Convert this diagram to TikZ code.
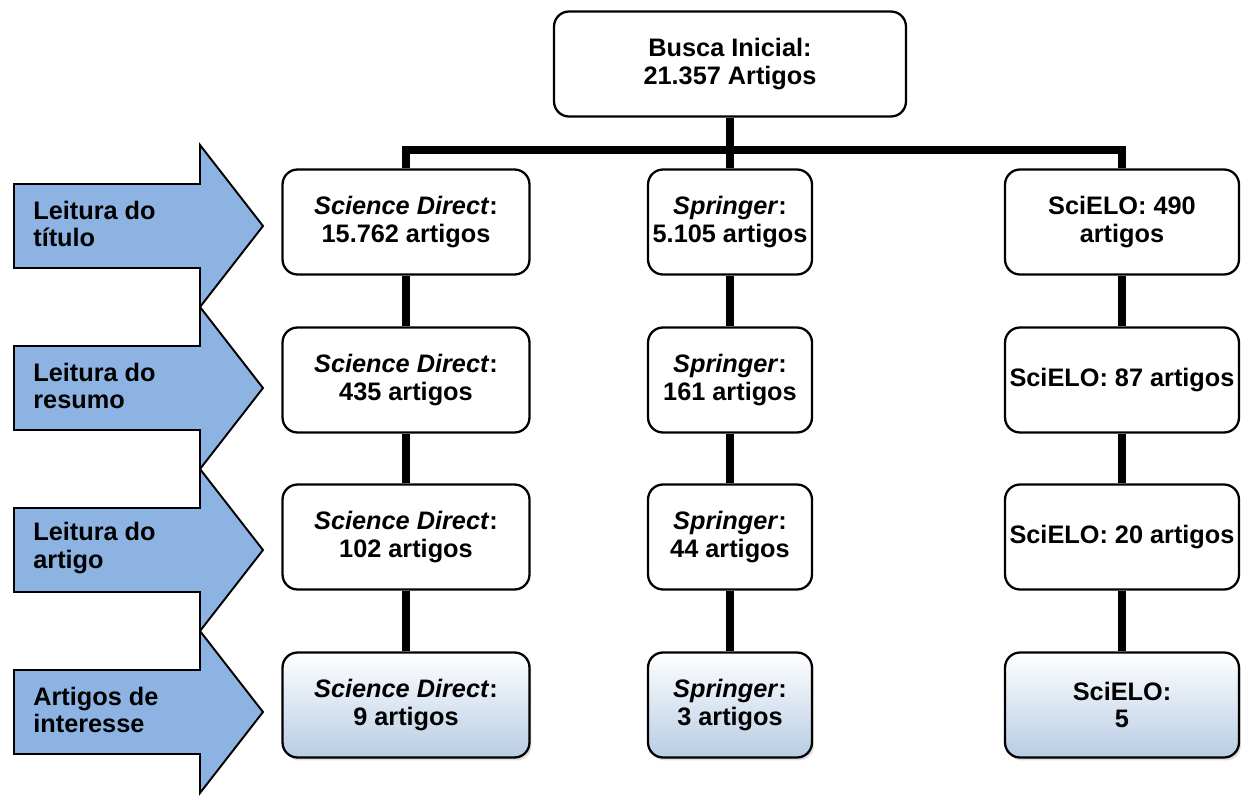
\documentclass[tikz,border=0pt]{standalone}
\usepackage{fontspec}
\setmainfont{Liberation Sans}
\usetikzlibrary{shadows}
\definecolor{arrcol}{HTML}{8DB3E2}
\definecolor{endcol}{HTML}{B8CCE4}
\tikzstyle{box}=[draw, fill=white, rounded corners=0.3cm, line width=1.3pt, align=center, minimum height=2.1cm, inner sep=2pt, font=\bfseries\fontsize{14.4}{15.6}\selectfont]
\tikzstyle{endbox}=[box, top color=white, bottom color=endcol, drop shadow={shadow xshift=0.04cm, shadow yshift=-0.06cm, fill=black!25}]
\tikzstyle{sdcol}=[minimum width=4.94cm]
\tikzstyle{spcol}=[minimum width=3.28cm]
\tikzstyle{sccol}=[minimum width=4.68cm]
\tikzstyle{link}=[line width=4.3pt]
\tikzstyle{phase}=[draw, fill=arrcol, line width=1.1pt, line join=miter]
\tikzstyle{phasetext}=[anchor=west, align=left, inner sep=0pt, font=\bfseries\fontsize{14.4}{15.4}\selectfont]

\begin{document}
\begin{tikzpicture}[x=0.02cm, y=-0.02cm]
	\useasboundingbox (0,0) rectangle (1241,798);

	% Stages
	\foreach \t/\nm/\txt in {226/ph1/{Leitura do\\título}, 388/ph2/{Leitura do\\resumo}, 550/ph3/{Leitura do\\artigo}, 712/ph4/{Artigos de\\interesse}} {
		\draw[phase] (14,\t-42) -- (200,\t-42) -- (200,\t-81) -- (263,\t) -- (200,\t+81) -- (200,\t+42) -- (14,\t+42) -- cycle;
		\node[phasetext] (\nm) at (33,\t-2) {\txt};
	}

	\node[box, minimum width=7.04cm] (top) at (730,64) {Busca Inicial:\\21.357 Artigos};

	\node[box, sdcol] (sd1) at (406,222) {\textit{Science Direct}:\\15.762 artigos};
	\node[box, sdcol] (sd2) at (406,380) {\textit{Science Direct}:\\435 artigos};
	\node[box, sdcol] (sd3) at (406,537) {\textit{Science Direct}:\\102 artigos};
	\node[endbox, sdcol] (sd4) at (406,705) {\textit{Science Direct}:\\9 artigos};

	\node[box, spcol] (sp1) at (730,222) {\textit{Springer}:\\5.105 artigos};
	\node[box, spcol] (sp2) at (730,380) {\textit{Springer}:\\161 artigos};
	\node[box, spcol] (sp3) at (730,537) {\textit{Springer}:\\44 artigos};
	\node[endbox, spcol] (sp4) at (730,705) {\textit{Springer}:\\3 artigos};

	\node[box, sccol] (sc1) at (1122,222) {SciELO: 490\\artigos};
	\node[box, sccol] (sc2) at (1122,380) {SciELO: 87 artigos};
	\node[box, sccol] (sc3) at (1122,537) {SciELO: 20 artigos};
	\node[endbox, sccol] (sc4) at (1122,705) {SciELO:\\5};

	% Branches
	\coordinate (bar) at (730,150);
	\draw[link] (top.south) -- (top |- bar);
	\draw[link] (sd1.north) -- (sd1 |- bar) -- (sc1 |- bar) -- (sc1.north);
	\draw[link] (sp1.north) -- (sp1 |- bar);
	% Columns
	\foreach \c in {sd,sp,sc} {
		\draw[link] (\c1.south) -- (\c2.north) (\c2.south) -- (\c3.north) (\c3.south) -- (\c4.north);
	}
\end{tikzpicture}
\end{document}
